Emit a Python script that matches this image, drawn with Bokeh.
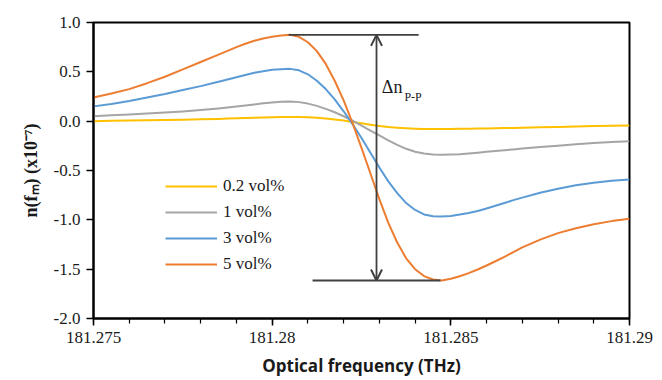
from bokeh.plotting import figure
from bokeh.models import (FixedTicker, CustomJSTickFormatter, Legend, LegendItem,
                          Arrow, OpenHead, Label, Range1d)
from bokeh.embed import file_html
from bokeh.resources import INLINE

# Optical frequency (THz)
freq = [181.2750, 181.2755, 181.2760, 181.2765, 181.2770, 181.2775, 181.2780, 181.2785,
        181.27875, 181.2790, 181.27925, 181.2795, 181.27975, 181.2800, 181.28025, 181.2805,
        181.28075, 181.2810, 181.28125, 181.2815, 181.28175, 181.2820, 181.28225, 181.2825,
        181.28275, 181.2830, 181.28325, 181.2835, 181.28375, 181.2840, 181.28425, 181.2845,
        181.28475, 181.2850, 181.28525, 181.2855, 181.28575, 181.2860, 181.28625, 181.2865,
        181.28675, 181.2870,
        181.2875, 181.2880, 181.2885, 181.2890, 181.2895, 181.2900]

n_02 = [0.00, 0.003, 0.006, 0.009, 0.012, 0.015, 0.019, 0.023,
        0.026, 0.029, 0.032, 0.035, 0.038, 0.040, 0.042, 0.043,
        0.043, 0.040, 0.035, 0.028, 0.018, 0.006, -0.008, -0.022,
        -0.036, -0.048, -0.059, -0.067, -0.073, -0.077, -0.079, -0.080,
        -0.080, -0.079, -0.078, -0.077, -0.075, -0.074, -0.072, -0.070,
        -0.068, -0.066,
        -0.062, -0.058, -0.054, -0.050, -0.046, -0.043]

n_1 = [0.050, 0.059, 0.068, 0.077, 0.087, 0.098, 0.112, 0.128,
       0.138, 0.148, 0.159, 0.170, 0.181, 0.190, 0.197, 0.200,
       0.193, 0.178, 0.155, 0.125, 0.090, 0.050, 0.005, -0.045,
       -0.095, -0.145, -0.195, -0.240, -0.280, -0.310, -0.328, -0.337,
       -0.340, -0.338, -0.335, -0.328, -0.320, -0.310, -0.302, -0.294,
       -0.286, -0.278,
       -0.263, -0.248, -0.234, -0.222, -0.212, -0.204]

n_3 = [0.150, 0.175, 0.205, 0.240, 0.275, 0.315, 0.355, 0.400,
       0.423, 0.445, 0.468, 0.490, 0.507, 0.520, 0.527, 0.530,
       0.515, 0.475, 0.410, 0.325, 0.220, 0.100, -0.030, -0.170,
       -0.320, -0.470, -0.610, -0.730, -0.830, -0.900, -0.945, -0.963,
       -0.967, -0.960, -0.947, -0.930, -0.910, -0.885, -0.858, -0.830,
       -0.800, -0.775,
       -0.725, -0.685, -0.650, -0.625, -0.605, -0.590]

n_5 = [0.240, 0.280, 0.325, 0.385, 0.450, 0.525, 0.600, 0.675,
       0.713, 0.750, 0.785, 0.815, 0.838, 0.855, 0.868, 0.875,
       0.855, 0.800, 0.710, 0.580, 0.410, 0.210, -0.020, -0.270,
       -0.530, -0.790, -1.030, -1.230, -1.390, -1.500, -1.570, -1.605,
       -1.615, -1.598, -1.572, -1.540, -1.503, -1.463, -1.420, -1.375,
       -1.328, -1.280,
       -1.200, -1.135, -1.085, -1.045, -1.013, -0.990]

series_labels = ["0.2 vol%", "1 vol%", "3 vol%", "5 vol%"]
series_colors = ["#FFC000", "#A5A5A5", "#5B9BD5", "#ED7D31"]
series_values = [n_02, n_1, n_3, n_5]

x_major = [181.275, 181.28, 181.285, 181.29]
x_minor = [181.275 + 0.001 * i for i in range(16)]
y_major = [-2.0, -1.5, -1.0, -0.5, 0.0, 0.5, 1.0]

SERIF = "Liberation Serif"

p = figure(width=662, height=380, output_backend="svg", toolbar_location=None,
           x_range=Range1d(181.275, 181.29), y_range=Range1d(-2.0, 1.0),
           min_border_left=93, min_border_right=33, min_border_top=22, min_border_bottom=62)
p.background_fill_color = "white"
p.border_fill_color = "white"
p.outline_line_color = "black"
p.outline_line_width = 2
p.xgrid.visible = False
p.ygrid.visible = False

renderers = []
for vals, col in zip(series_values, series_colors):
    r = p.line(freq, vals, line_color=col, line_width=2, line_join="round")
    renderers.append(r)

# Peak-to-peak annotation for 5 vol%
top = max(n_5)
bot = min(n_5)
p.segment(x0=[181.28046, 181.28113], y0=[top, bot], x1=[181.28410, 181.28471], y1=[top, bot],
          line_color="#404040", line_width=1.8)
p.add_layout(Arrow(start=OpenHead(size=11, line_color="#404040", line_width=2),
                   end=OpenHead(size=11, line_color="#404040", line_width=2),
                   x_start=181.28292, y_start=bot, x_end=181.28292, y_end=top,
                   line_color="#404040", line_width=1.8))
p.add_layout(Label(x=181.28307, y=0.24, text="Δn", text_font=SERIF,
                   text_font_size="18px", text_color="#1a1a1a"))
p.add_layout(Label(x=181.28370, y=0.17, text="P-P", text_font=SERIF,
                   text_font_size="12px", text_color="#1a1a1a"))

# Axes
xa = p.xaxis[0]
xa.ticker = FixedTicker(ticks=x_major, minor_ticks=x_minor)
xa.formatter = CustomJSTickFormatter(code="return Number(tick.toFixed(3)).toString();")
xa.axis_label = "Optical frequency (THz)"
xa.axis_label_text_font = "Open Sans"
xa.axis_label_text_font_style = "bold"
xa.axis_label_text_font_size = "17px"
xa.axis_label_standoff = 8
xa.major_label_text_font = SERIF
xa.major_label_text_font_size = "17px"
xa.major_label_standoff = 6

ya = p.yaxis[0]
ya.ticker = FixedTicker(ticks=y_major, minor_ticks=[])
ya.formatter = CustomJSTickFormatter(code="return tick.toFixed(1);")
ya.axis_label = "n(fₘ) (x10⁻⁷)"
ya.axis_label_text_font = SERIF
ya.axis_label_text_font_style = "bold"
ya.axis_label_text_font_size = "18px"
ya.axis_label_standoff = 10
ya.major_label_text_font = SERIF
ya.major_label_text_font_size = "17px"
ya.major_label_standoff = 6

for ax in (xa, ya):
    ax.axis_line_color = "black"
    ax.axis_line_width = 2
    ax.major_tick_line_color = "black"
    ax.major_tick_line_width = 1.5
    ax.major_tick_in = 0
    ax.major_tick_out = 7
    ax.minor_tick_line_color = "black"
    ax.minor_tick_line_width = 1.2
    ax.minor_tick_in = 0
    ax.minor_tick_out = 5
    ax.major_label_text_color = "#1a1a1a"
    ax.axis_label_text_color = "#1a1a1a"

legend = Legend(items=[LegendItem(label=lab, renderers=[r])
                       for lab, r in zip(series_labels, renderers)],
                location=(72, 44), orientation="vertical")
legend.background_fill_alpha = 0
legend.border_line_color = None
legend.padding = 0
legend.margin = 0
legend.spacing = 6
legend.glyph_width = 52
legend.glyph_height = 20
legend.label_height = 20
legend.label_standoff = 6
legend.label_text_font = SERIF
legend.label_text_font_size = "17px"
legend.label_text_color = "#1a1a1a"
p.add_layout(legend)

open("out.html", "w").write(file_html(p, INLINE))
